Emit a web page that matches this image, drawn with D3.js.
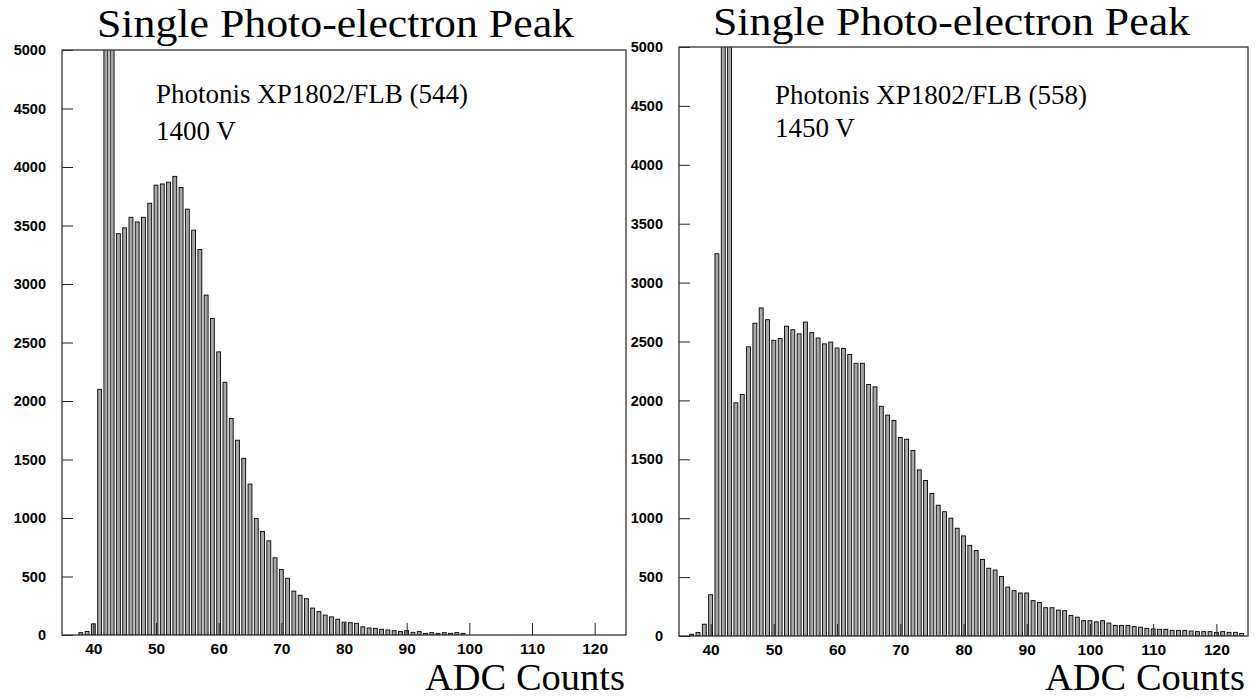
<!DOCTYPE html>
<html>
<head>
<meta charset="utf-8">
<title>Single Photo-electron Peak</title>
<style>
  body { margin: 0; background: #fff; }
  svg { display: block; }
  .tick text { font-family: "Liberation Sans", Arial, sans-serif; font-weight: bold; fill: #000; }
  .xax .tick text { font-size: 15.5px; }
  .yax .tick text { font-size: 14.5px; }
  .serif { font-family: "Liberation Serif", "Times New Roman", serif; fill: #000; }
</style>
</head>
<body>
<div id="chart"></div>
<script src="https://cdn.jsdelivr.net/npm/d3@7"></script>
<script>
// bins are centred on integer ADC values, first bin = 36
var firstBin = 36;

// Photonis XP1802/FLB (544), 1400 V
var countsLeft = [
  0, 0, 20, 30, 95, 2100, 9000, 7000, 3430, 3480,          // 36-45
  3570, 3530, 3570, 3690, 3845, 3855, 3870, 3920, 3825, 3640, // 46-55
  3460, 3295, 2905, 2705, 2420, 2160, 1850, 1665, 1510, 1290, // 56-65
  995, 885, 805, 660, 560, 485, 375, 340, 310, 230,          // 66-75
  200, 170, 155, 135, 110, 105, 100, 70, 60, 57,             // 76-85
  49, 43, 37, 29, 37, 23, 29, 14, 20, 14,                    // 86-95
  20, 14, 20, 14, 0, 0, 0, 0, 0, 0,                          // 96-105
  0, 0, 0, 0, 0, 0, 0, 0, 0, 0,                              // 106-115
  0, 0, 0, 0, 0, 0, 0, 0, 0                                  // 116-124
];

// Photonis XP1802/FLB (558), 1450 V
var countsRight = [
  0, 15, 30, 100, 350, 3245, 9000, 7000, 1980, 2050,         // 36-45
  2455, 2655, 2785, 2685, 2510, 2525, 2630, 2600, 2565, 2665, // 46-55
  2575, 2530, 2480, 2495, 2445, 2440, 2390, 2315, 2315, 2135, // 56-65
  2115, 1950, 1875, 1830, 1685, 1670, 1575, 1410, 1320, 1210, // 66-75
  1110, 1055, 1000, 915, 850, 770, 725, 650, 575, 560,       // 76-85
  505, 415, 385, 365, 365, 300, 285, 240, 240, 220,          // 86-95
  215, 175, 160, 130, 130, 120, 130, 110, 90, 90,            // 96-105
  90, 80, 75, 65, 60, 57, 57, 48, 48, 48,                    // 106-115
  42, 37, 37, 37, 31, 37, 31, 31, 22                         // 116-124
];

var xDomain = [35, 125];
var yDomain = [0, 5000];
var xMajor = [40, 50, 60, 70, 80, 90, 100, 110, 120];
var xMinor = d3.range(36, 125, 2);
var yMajor = d3.range(0, 5001, 500);
var yMinor = d3.range(0, 5001, 100);

var titleText = "Single Photo-electron Peak";
var xTitle = "ADC Counts";

var panels = [
  { counts: countsLeft, tube: "Photonis XP1802/FLB (544)", hv: "1400 V",
    left: 62, right: 626, top: 50, bottom: 635,
    titleX: 97, titleY: 37, labelX: 156, labelY: 103, hvY: 140, xtX: 425 },
  { counts: countsRight, tube: "Photonis XP1802/FLB (558)", hv: "1450 V",
    left: 679, right: 1248, top: 47, bottom: 636,
    titleX: 713, titleY: 35, labelX: 775, labelY: 104, hvY: 137, xtX: 1045 }
];

var svg = d3.select("#chart").append("svg")
    .attr("width", 1256)
    .attr("height", 699);

panels.forEach(function(p, i) {
  var x = d3.scaleLinear().domain(xDomain).range([p.left, p.right]);
  var y = d3.scaleLinear().domain(yDomain).range([p.bottom, p.top]);
  var bw = x(1) - x(0);

  var bins = p.counts.map(function(c, k) { return { bin: firstBin + k, n: c }; })
    .filter(function(d) { return d.n > 0; });

  svg.append("clipPath").attr("id", "clip" + i)
    .append("rect")
    .attr("x", p.left).attr("y", p.top)
    .attr("width", p.right - p.left).attr("height", p.bottom - p.top);

  svg.append("g").attr("clip-path", "url(#clip" + i + ")")
    .selectAll("rect").data(bins).enter().append("rect")
    .attr("x", function(d) { return x(d.bin) - bw * 0.31; })
    .attr("y", function(d) { return y(d.n); })
    .attr("width", bw * 0.62)
    .attr("height", function(d) { return y(0) - y(d.n); })
    .attr("fill", "#a8a8a8")
    .attr("stroke", "#000")
    .attr("stroke-width", 0.9);

  // axes, ticks drawn inward
  var gx = svg.append("g").attr("class", "xax").attr("transform", "translate(0," + p.bottom + ")");
  gx.call(d3.axisBottom(x).tickValues(xMinor).tickSize(-6).tickFormat(""));
  gx.call(d3.axisBottom(x).tickValues(xMajor).tickSize(-12).tickPadding(8).tickFormat(d3.format("d")));
  gx.selectAll(".domain").remove();

  var gy = svg.append("g").attr("class", "yax").attr("transform", "translate(" + p.left + ",0)");
  gy.call(d3.axisLeft(y).tickValues(yMinor).tickSize(-5).tickFormat(""));
  gy.call(d3.axisLeft(y).tickValues(yMajor).tickSize(-11).tickPadding(16).tickFormat(d3.format("d")));
  gy.selectAll(".domain").remove();
  svg.selectAll(".tick line").attr("stroke", "#222");

  svg.append("rect")
    .attr("x", p.left).attr("y", p.top)
    .attr("width", p.right - p.left).attr("height", p.bottom - p.top)
    .attr("fill", "none").attr("stroke", "#333").attr("stroke-width", 1.3);

  svg.append("text").attr("class", "serif")
    .attr("x", p.titleX).attr("y", p.titleY)
    .attr("font-size", 40).attr("textLength", 477).attr("lengthAdjust", "spacingAndGlyphs")
    .text(titleText);

  svg.append("text").attr("class", "serif")
    .attr("x", p.labelX).attr("y", p.labelY)
    .attr("font-size", 27)
    .text(p.tube);

  svg.append("text").attr("class", "serif")
    .attr("x", p.labelX).attr("y", p.hvY)
    .attr("font-size", 27)
    .text(p.hv);

  svg.append("text").attr("class", "serif")
    .attr("x", p.xtX).attr("y", 690)
    .attr("font-size", 38).attr("textLength", 200).attr("lengthAdjust", "spacingAndGlyphs")
    .text(xTitle);
});
</script>
</body>
</html>
